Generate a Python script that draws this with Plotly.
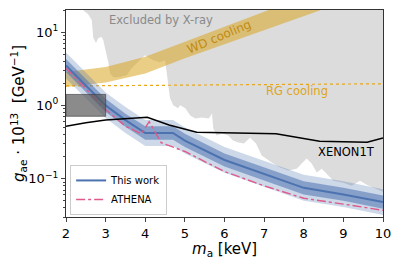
import plotly.graph_objects as go
import numpy as np

# ---------------- data ----------------
# This work: central sensitivity and 1/2-sigma bands
ma = [2, 2.5, 3, 3.5, 4, 4.7, 5, 6, 7, 8, 9, 10]
this_work = [3.5, 1.85, 1.0, 0.63, 0.42, 0.42, 0.33, 0.18, 0.115, 0.075, 0.061, 0.048]
s1_lo = [2.85, 1.5, 0.81, 0.51, 0.34, 0.34, 0.27, 0.146, 0.094, 0.061, 0.05, 0.039]
s1_hi = [4.3, 2.28, 1.23, 0.77, 0.52, 0.52, 0.41, 0.22, 0.141, 0.092, 0.075, 0.059]
s2_lo = [2.33, 1.23, 0.67, 0.42, 0.28, 0.28, 0.22, 0.12, 0.077, 0.05, 0.041, 0.032]
s2_hi = [5.25, 2.78, 1.5, 0.95, 0.63, 0.63, 0.5, 0.27, 0.173, 0.113, 0.092, 0.072]

# ATHENA
athena_x = [2, 2.5, 3, 3.5, 3.9, 4.1, 4.4, 5, 6, 7, 8, 9, 10]
athena_y = [3.2, 1.7, 0.88, 0.52, 0.41, 0.60, 0.31, 0.235, 0.125, 0.08, 0.054, 0.045, 0.037]

# XENON1T
xenon_x = [2, 2.5, 3, 4.05, 4.6, 5.3, 7.3, 8.4, 9.6, 10]
xenon_y = [0.52, 0.58, 0.63, 0.69, 0.54, 0.43, 0.41, 0.325, 0.315, 0.36]

# X-ray exclusion boundary (region above is excluded)
xray_x = [2.429, 2.555, 2.649, 2.689, 2.757, 2.815, 2.901, 2.941, 2.984, 3.068, 3.110,
          3.194, 3.320, 3.532, 3.658, 3.784, 3.910, 3.994, 4.077, 4.203, 4.372, 4.498,
          4.541, 4.582, 4.625, 4.708, 4.826, 4.885, 5.011, 5.137, 5.263, 5.432, 5.601,
          5.685, 5.717, 5.803, 5.937, 6.096, 6.215, 6.348, 6.492, 6.644, 6.795, 6.939,
          7.191, 7.401, 7.610, 7.822, 7.948, 8.074, 8.201, 8.327, 8.453, 8.579, 8.746,
          8.998, 9.210, 9.420, 9.589, 9.755, 10.0, 10.0, 2.429]
xray_y = [20.0, 17.6, 14.6, 8.27, 7.07, 8.27, 8.54, 7.77, 6.04, 3.88, 2.74,
          2.42, 2.42, 2.58, 3.21, 3.76, 4.40, 4.84, 4.54, 4.13, 3.88, 4.13,
          2.83, 1.88, 1.25, 1.0, 0.91, 1.0, 0.91, 0.73, 0.664, 0.685, 0.664,
          0.777, 0.484, 0.388, 0.413, 0.388, 0.332, 0.311, 0.302, 0.365, 0.302, 0.207,
          0.166, 0.142, 0.129, 0.137, 0.161, 0.188, 0.161, 0.121, 0.137, 0.117, 0.094,
          0.088, 0.080, 0.094, 0.0828, 0.0753, 0.0664, 30.0, 30.0]

# WD cooling band
wd_x = [2, 3, 4, 5, 6, 7, 8, 9, 10]
wd_lo = [1.78, 2.05, 2.72, 4.4, 6.8, 10.6, 16.5, 26, 40]
wd_hi = [2.86, 3.35, 4.6, 7.4, 11.8, 19, 30, 48, 75]

# RG cooling
rg_x = [2, 10]
rg_y = [1.84, 1.97]

# gray box
box_x = [2, 3, 3, 2, 2]
box_y = [0.71, 0.71, 1.41, 1.41, 0.71]

x_ticks = [2, 3, 4, 5, 6, 7, 8, 9, 10]
y_ticks = [0.1, 1, 10]
y_ticktext = ["10<sup>−1</sup>", "10<sup>0</sup>", "10<sup>1</sup>"]

BLUE = "#4C72B0"
PINK = "#DD5A8A"
FONT = "DejaVu Sans"

fig = go.Figure()

# X-ray excluded region
fig.add_trace(go.Scatter(x=xray_x, y=xray_y, fill="toself", mode="none",
                         fillcolor="#dcdcdc", showlegend=False, hoverinfo="skip"))

# WD band
fig.add_trace(go.Scatter(x=wd_x, y=wd_hi, mode="lines", line=dict(width=0),
                         showlegend=False, hoverinfo="skip"))
fig.add_trace(go.Scatter(x=wd_x, y=wd_lo, mode="lines", line=dict(width=0),
                         fill="tonexty", fillcolor="rgba(218,165,32,0.55)",
                         showlegend=False, hoverinfo="skip"))

# RG line
fig.add_trace(go.Scatter(x=rg_x, y=rg_y, mode="lines",
                         line=dict(color="#E8A817", width=1.2, dash="dot"),
                         showlegend=False, hoverinfo="skip"))

# 2 sigma band
fig.add_trace(go.Scatter(x=ma, y=s2_hi, mode="lines", line=dict(width=0),
                         showlegend=False, hoverinfo="skip"))
fig.add_trace(go.Scatter(x=ma, y=s2_lo, mode="lines", line=dict(width=0),
                         fill="tonexty", fillcolor="rgba(76,114,176,0.28)",
                         showlegend=False, hoverinfo="skip"))
# 1 sigma band
fig.add_trace(go.Scatter(x=ma, y=s1_hi, mode="lines", line=dict(width=0),
                         showlegend=False, hoverinfo="skip"))
fig.add_trace(go.Scatter(x=ma, y=s1_lo, mode="lines", line=dict(width=0),
                         fill="tonexty", fillcolor="rgba(76,114,176,0.55)",
                         showlegend=False, hoverinfo="skip"))

# central line
fig.add_trace(go.Scatter(x=ma, y=this_work, mode="lines", name="This work",
                         line=dict(color=BLUE, width=2)))
# ATHENA
fig.add_trace(go.Scatter(x=athena_x, y=athena_y, mode="lines", name="ATHENA",
                         line=dict(color=PINK, width=1.4, dash="dashdot")))
# XENON1T
fig.add_trace(go.Scatter(x=xenon_x, y=xenon_y, mode="lines",
                         line=dict(color="black", width=1.5),
                         showlegend=False, hoverinfo="skip"))
# gray box
fig.add_trace(go.Scatter(x=box_x, y=box_y, fill="toself", mode="lines",
                         line=dict(color="rgba(60,60,60,0.8)", width=0.8),
                         fillcolor="rgba(90,90,90,0.7)",
                         showlegend=False, hoverinfo="skip"))

# annotations
fig.add_annotation(x=4.4, y=np.log10(14.6), text="Excluded by X-ray", showarrow=False,
                   font=dict(family=FONT, size=11.5, color="#8a8a8a"))
fig.add_annotation(x=5.85, y=np.log10(8.6), text="WD cooling", showarrow=False,
                   textangle=-23, font=dict(family=FONT, size=12, color="#C08A10"))
fig.add_annotation(x=7.83, y=np.log10(1.56), text="RG cooling", showarrow=False,
                   font=dict(family=FONT, size=11.5, color="#DDA520"))
fig.add_annotation(x=9.07, y=np.log10(0.229), text="XENON1T", showarrow=False,
                   font=dict(family=FONT, size=11.5, color="black"))

# axis titles as annotations (fixed positions)
fig.add_annotation(xref="paper", yref="paper", x=0.5, y=-0.155, yanchor="middle",
                   text="<i>m</i><sub>a</sub> [keV]", showarrow=False, borderpad=0,
                   font=dict(family=FONT, size=15, color="black"))
fig.add_annotation(xref="paper", yref="paper", x=-0.15, y=0.5, xanchor="center",
                   textangle=-90,
                   text="<i>g</i><sub>ae</sub> · 10<sup>13</sup>  [GeV<sup>−1</sup>]",
                   showarrow=False, font=dict(family=FONT, size=15, color="black"))

# page body has an 8px offset, so the figure is sized to fit inside the window
fig.update_layout(
    width=391, height=254,
    margin=dict(l=58, r=16, t=2, b=45),
    plot_bgcolor="white", paper_bgcolor="white",
    font=dict(family=FONT, size=13, color="black"),
    legend=dict(x=0.013, y=0.01, xanchor="left", yanchor="bottom",
                traceorder="normal",
                bgcolor="rgba(255,255,255,0.85)", bordercolor="#cccccc", borderwidth=1,
                font=dict(family=FONT, size=10), tracegroupgap=0,
                itemwidth=30),
)
fig.update_xaxes(range=[2, 10], tickvals=x_ticks, showgrid=False, zeroline=False,
                 automargin=False,
                 ticks="outside", ticklen=4, linecolor="#333", linewidth=1.2, mirror=True,
                 tickfont=dict(size=13))
fig.update_yaxes(type="log", range=[np.log10(0.03), np.log10(20)], tickvals=y_ticks,
                 ticktext=y_ticktext, showgrid=False, zeroline=False, automargin=False,
                 ticks="outside", ticklen=4, linecolor="#333", linewidth=1.2, mirror=True,
                 minor=dict(ticks="outside", ticklen=2, dtick="D1", showgrid=False),
                 tickfont=dict(size=13))

fig.write_html("out.html")
